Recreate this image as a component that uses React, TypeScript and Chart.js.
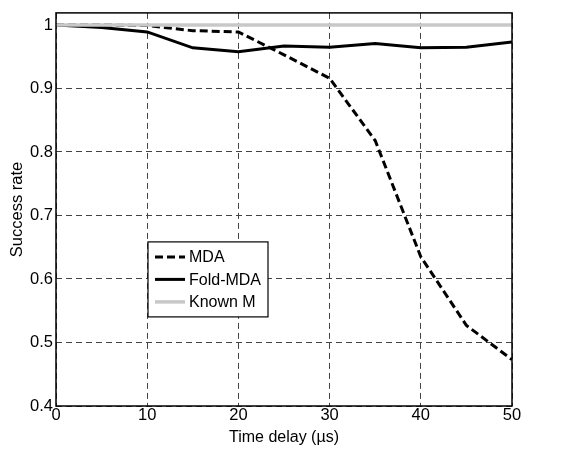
import React, { useEffect, useRef } from "react";
import { Chart, registerables } from "chart.js";

Chart.register(...registerables);

const timeDelays = [0, 5, 10, 15, 20, 25, 30, 35, 40, 45, 50];
const mdaValues = [1.0, 1.0, 0.999, 0.991, 0.989, 0.953, 0.916, 0.818, 0.635, 0.527, 0.473];
const foldMdaValues = [1.0, 0.996, 0.989, 0.964, 0.958, 0.967, 0.965, 0.971, 0.964, 0.965, 0.973];
const knownMValues = [1, 1, 1, 1, 1, 1, 1, 1, 1, 1, 1];
const xTicks = [0, 10, 20, 30, 40, 50];
const yTicks = [0.4, 0.5, 0.6, 0.7, 0.8, 0.9, 1.0];

const FONT = "'Liberation Sans', Arial, Helvetica, sans-serif";

const boxPlugin = {
  id: "boxAndLegend",
  afterDraw(chart: any) {
    const { ctx, chartArea } = chart;
    ctx.save();
    ctx.strokeStyle = "#000";
    ctx.lineWidth = 1.5;
    ctx.setLineDash([]);
    ctx.strokeRect(chartArea.left, chartArea.top, chartArea.right - chartArea.left, chartArea.bottom - chartArea.top);

    // legend
    const lx = chartArea.left + 92;
    const ly = chartArea.top + 229;
    const lw = 120;
    const lh = 75;
    ctx.fillStyle = "#fff";
    ctx.fillRect(lx, ly, lw, lh);
    ctx.lineWidth = 1.2;
    ctx.strokeRect(lx, ly, lw, lh);
    const ds = chart.data.datasets;
    ctx.font = `16px ${FONT}`;
    ctx.textBaseline = "middle";
    ctx.textAlign = "left";
    for (let i = 0; i < ds.length; i++) {
      const y = ly + 15 + i * 22.5;
      ctx.beginPath();
      ctx.strokeStyle = ds[i].borderColor;
      ctx.lineWidth = ds[i].borderWidth;
      ctx.setLineDash(ds[i].borderDash || []);
      ctx.moveTo(lx + 7, y);
      ctx.lineTo(lx + 37, y);
      ctx.stroke();
      ctx.setLineDash([]);
      ctx.fillStyle = "#000";
      ctx.fillText(ds[i].label, lx + 41, y + 1);
    }
    ctx.restore();
  },
};

export default function App() {
  const ref = useRef<HTMLCanvasElement>(null);
  useEffect(() => {
    document.body.style.margin = "0";
    const chart = new Chart(ref.current as HTMLCanvasElement, {
      type: "line",
      data: {
        labels: timeDelays,
        datasets: [
          {
            label: "MDA",
            data: mdaValues.map((v, i) => ({ x: timeDelays[i], y: v })),
            borderColor: "#000",
            borderWidth: 3,
            borderDash: [8, 4],
            pointRadius: 0,
            tension: 0,
            order: 1,
          },
          {
            label: "Fold-MDA",
            data: foldMdaValues.map((v, i) => ({ x: timeDelays[i], y: v })),
            borderColor: "#000",
            borderWidth: 3,
            pointRadius: 0,
            tension: 0,
            order: 2,
          },
          {
            label: "Known M",
            data: knownMValues.map((v, i) => ({ x: timeDelays[i], y: v })),
            borderColor: "#c8c8c8",
            borderWidth: 3.5,
            pointRadius: 0,
            tension: 0,
            order: 0,
          },
        ],
      },
      options: {
        responsive: false,
        animation: false,
        layout: { padding: { top: 10, right: 64, left: 0, bottom: 0 } },
        plugins: { legend: { display: false }, tooltip: { enabled: false } },
        scales: {
          x: {
            type: "linear",
            min: 0,
            max: 50,
            afterBuildTicks: (s: any) => {
              s.ticks = xTicks.map((v) => ({ value: v }));
            },
            afterFit: (s: any) => {
              s.height = 45;
            },
            grid: {
              color: "#444",
              lineWidth: 1,
              drawTicks: false,
            },
            border: { display: false, dash: [6, 4] },
            ticks: {
              color: "#000",
              font: { family: FONT, size: 16.5 },
              padding: 0,
              maxRotation: 0,
              callback: (v: any) => String(v),
            },
            title: {
              display: true,
              text: "Time delay (µs)",
              color: "#000",
              font: { family: FONT, size: 16 },
              padding: { top: 0, bottom: 4 },
            },
          },
          y: {
            type: "linear",
            min: 0.4,
            max: 1.019,
            afterBuildTicks: (s: any) => {
              s.ticks = yTicks.map((v) => ({ value: v }));
            },
            afterFit: (s: any) => {
              s.width = 56;
            },
            grid: { color: "#444", lineWidth: 1, drawTicks: false },
            border: { display: false, dash: [6, 4] },
            ticks: {
              color: "#000",
              font: { family: FONT, size: 16.5 },
              padding: 3,
              callback: (v: any) => {
                const n = Math.round(Number(v) * 10) / 10;
                return n === 1 ? "1" : n.toFixed(1);
              },
            },
            title: {
              display: true,
              text: "Success rate",
              color: "#000",
              font: { family: FONT, size: 16.5 },
              padding: { top: 8, bottom: 0 },
            },
          },
        },
      },
      plugins: [boxPlugin],
    } as any);
    return () => chart.destroy();
  }, []);
  return (
    <div style={{ width: 576, height: 451, background: "#fff" }}>
      <canvas ref={ref} width={576} height={451} style={{ display: "block" }} />
    </div>
  );
}
